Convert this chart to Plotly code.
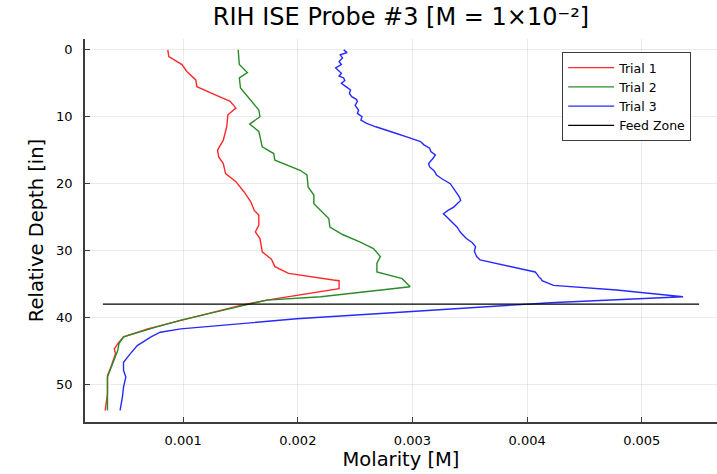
import plotly.graph_objects as go

# ---- data ----
trial1_depth = [0, 1, 2.2, 3.2, 4.5, 5.5, 6.5, 7.7, 8.7, 9.7, 11.5, 13.5, 15, 16, 17, 18.5, 19.7,
                21.2, 22.7, 24, 24.7, 26.2, 27.2, 28.2, 30.2, 31.3, 32.4, 33.4, 34.4, 34.5, 35.7,
                36.4, 37.4, 38.2, 40.4, 41.7, 42.9, 43.9, 44.7, 45.4, 47.4, 48.7, 51.4, 53.9]
trial1_m = [0.000866, 0.000875, 0.00099, 0.00103, 0.00111, 0.00112, 0.00125, 0.00141, 0.00146,
            0.00139, 0.00138, 0.00135, 0.00130, 0.00131, 0.00135, 0.00137, 0.00146, 0.00153,
            0.00159, 0.00162, 0.00166, 0.00166, 0.00163, 0.00167, 0.00169, 0.00177, 0.00180,
            0.00192, 0.00231, 0.00236, 0.00236, 0.00211, 0.00173, 0.00150, 0.00100, 0.00069,
            0.00048, 0.00043, 0.00040, 0.00041, 0.00037, 0.00034, 0.00034, 0.00032]

trial2_depth = [0, 2.2, 3.4, 4.2, 5.7, 7.2, 8.5, 9, 10, 11.1, 12.2, 14.5, 15.5, 16.5, 18, 18.7,
                20.5, 21.7, 23, 24, 25.2, 26.5, 27.6, 28.7, 29.7, 30.9, 31.9, 33.2, 34.2, 35.4,
                36.9, 37.4, 40.4, 41.4, 42.9, 43.9, 44.9, 48.9, 53.9]
trial2_m = [0.00148, 0.00149, 0.00156, 0.00149, 0.00150, 0.00157, 0.00163, 0.00166, 0.00167,
            0.00158, 0.00166, 0.00169, 0.00179, 0.00180, 0.00202, 0.00208, 0.00209, 0.00214,
            0.00214, 0.00220, 0.00227, 0.00228, 0.00239, 0.00254, 0.00266, 0.00272, 0.00269,
            0.00269, 0.00291, 0.00298, 0.00220, 0.00173, 0.00098, 0.00077, 0.00048, 0.00044,
            0.00043, 0.00034, 0.00034]

trial3_depth = [0, 0.4, 0.75, 1.2, 1.75, 2.2, 2.7, 3.1, 3.5, 3.9, 4.2, 4.6, 5, 5.5, 6, 6.5, 7,
                7.4, 7.7, 8.3, 9, 9.5, 10, 10.5, 11, 11.5, 12, 12.5, 13, 13.4, 13.7, 14.2, 14.7,
                15.2, 15.7, 16.2, 16.6, 17, 17.5, 18.1, 18.7, 19.3, 20, 20.7, 21.5, 22, 22.5,
                23, 23.5, 24, 24.5, 25, 25.7, 26.5, 27.3, 28.2, 28.8, 29.4, 30.1, 30.9, 31.4,
                32.7, 33.2, 33.6, 33.9, 34.2, 34.5, 35.2, 35.9, 36.9, 37.8, 39.4, 40.2, 41.7,
                42.2, 42.9, 44.2, 45.4, 46.7, 47.9, 48.9, 50.4, 51.9, 53.9]
trial3_m = [0.00240, 0.00243, 0.00237, 0.00239, 0.00236, 0.00238, 0.00233, 0.00236, 0.00238,
            0.00236, 0.00240, 0.00241, 0.00238, 0.00242, 0.00246, 0.00245, 0.00247, 0.00251,
            0.00252, 0.00250, 0.00253, 0.00252, 0.00256, 0.00255, 0.00260, 0.00268, 0.00278,
            0.00286, 0.00295, 0.00301, 0.00307, 0.00310, 0.00315, 0.00316, 0.00320, 0.00318,
            0.00316, 0.00314, 0.00315, 0.00319, 0.00321, 0.00326, 0.00333, 0.00336, 0.00339,
            0.00341, 0.00342, 0.00339, 0.00336, 0.00331, 0.00327, 0.00330, 0.00334, 0.00339,
            0.00342, 0.00347, 0.00352, 0.00355, 0.00354, 0.00356, 0.00359, 0.00394, 0.00407,
            0.00409, 0.00410, 0.00412, 0.00413, 0.00423, 0.00478, 0.00536, 0.00420, 0.00272,
            0.00199, 0.00098, 0.00080, 0.00072, 0.00060, 0.00054, 0.00048, 0.00048, 0.00050,
            0.00048, 0.00047, 0.00045]

feed_zone_m = [0.0003, 0.0055]
feed_zone_depth = [38, 38]

series_names = ["Trial 1", "Trial 2", "Trial 3", "Feed Zone"]
x_tick_vals = [0.001, 0.002, 0.003, 0.004, 0.005]
x_tick_text = ["0.001", "0.002", "0.003", "0.004", "0.005"]
y_tick_vals = [0, 10, 20, 30, 40, 50]

FONT = "DejaVu Sans"

fig = go.Figure()
fig.add_trace(go.Scatter(x=trial1_m, y=trial1_depth, mode="lines", name=series_names[0],
                         line=dict(color="rgb(255,40,40)", width=1.4)))
fig.add_trace(go.Scatter(x=trial2_m, y=trial2_depth, mode="lines", name=series_names[1],
                         line=dict(color="rgb(40,140,40)", width=1.4)))
fig.add_trace(go.Scatter(x=trial3_m, y=trial3_depth, mode="lines", name=series_names[2],
                         line=dict(color="rgb(40,40,255)", width=1.4)))
fig.add_trace(go.Scatter(x=feed_zone_m, y=feed_zone_depth, mode="lines", name=series_names[3],
                         line=dict(color="black", width=1.2)))

fig.update_layout(
    width=717, height=474,
    margin=dict(l=85, r=0, t=39, b=52),
    paper_bgcolor="white", plot_bgcolor="white",
    font=dict(family=FONT, color="black"),
    title=dict(text="RIH ISE Probe #3 [M = 1×10⁻²]", x=401 / 717,
               xanchor="center", y=1 - 17 / 474, yanchor="middle",
               font=dict(family=FONT, size=24, color="black")),
    legend=dict(x=0.755, y=0.966, xanchor="left", yanchor="top",
                bgcolor="white", bordercolor="rgb(60,60,60)", borderwidth=1,
                font=dict(family=FONT, size=12.5), tracegroupgap=0,
                itemwidth=46),
    showlegend=True,
)
fig.update_xaxes(
    range=[0.000144, 0.005656], tickvals=x_tick_vals, ticktext=x_tick_text,
    showgrid=True, gridcolor="rgba(0,0,0,0.08)", gridwidth=1,
    showline=True, linecolor="rgb(60,60,60)", linewidth=1.5, mirror=False,
    ticks="inside", ticklen=5, tickcolor="rgb(60,60,60)", ticklabelstandoff=6,
    tickfont=dict(family=FONT, size=13), zeroline=False,
    title=dict(text="Molarity [M]", font=dict(family=FONT, size=19.5), standoff=5),
)
fig.update_yaxes(
    range=[55.62, -1.62], tickvals=y_tick_vals,
    showgrid=True, gridcolor="rgba(0,0,0,0.08)", gridwidth=1,
    showline=True, linecolor="rgb(60,60,60)", linewidth=1.5, mirror=False,
    ticks="inside", ticklen=5, tickcolor="rgb(60,60,60)", ticklabelstandoff=8,
    tickfont=dict(family=FONT, size=13), zeroline=False,
    title=dict(text="Relative Depth [in]", font=dict(family=FONT, size=19.5), standoff=7),
)

fig.write_html("out.html")
